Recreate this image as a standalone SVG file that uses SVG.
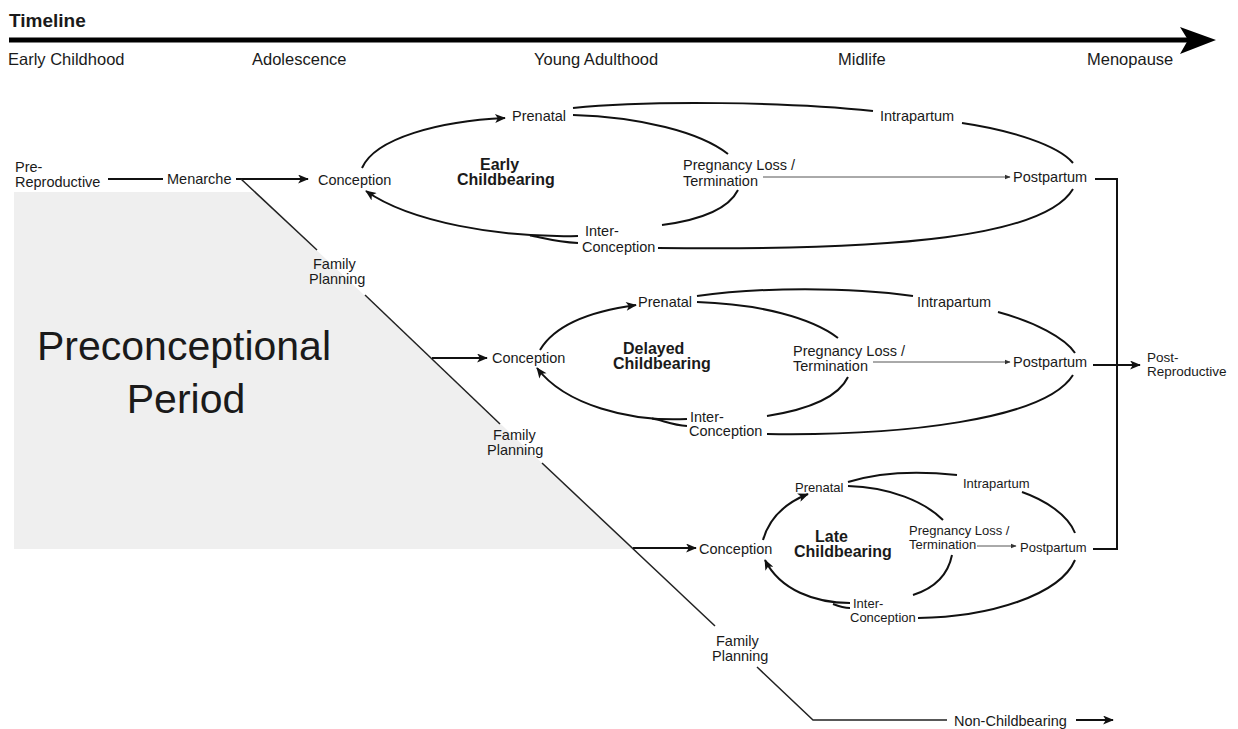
<svg xmlns="http://www.w3.org/2000/svg" width="1238" height="729" viewBox="0 0 1238 729">
<defs>
<style>
text{font-family:"Liberation Sans",Arial,sans-serif;fill:#1a1a1a}
.t16{font-size:16.5px}
.lb{font-size:14.5px}
.sm{font-size:13px}
.bd{font-size:16px;font-weight:bold}
.big{font-size:41px}
.c{fill:none;stroke:#111;stroke-width:2}
.d{fill:none;stroke:#222;stroke-width:1.5}
.th{fill:none;stroke:#555;stroke-width:1}
</style>
<marker id="ah" viewBox="0 0 12 10" refX="11" refY="5" markerWidth="12" markerHeight="9" markerUnits="userSpaceOnUse" orient="auto"><path d="M0,0 L12,5 L0,10 L3,5 z" fill="#111"/></marker>
<marker id="ahs" viewBox="0 0 10 10" refX="9" refY="5" markerWidth="6" markerHeight="6" markerUnits="userSpaceOnUse" orient="auto"><path d="M0,1 L10,5 L0,9 z" fill="#333"/></marker>
</defs>
<rect width="1238" height="729" fill="#fff"/>
<polygon id="preconceptional-area" points="14,192 255,192 633,549 14,549" fill="#efefef"/>

<g id="timeline">
<text x="9" y="27" style="font-size:19px;font-weight:bold">Timeline</text>
<line x1="9" y1="40" x2="1190" y2="40" stroke="#000" stroke-width="5"/>
<polygon points="1180,27 1216,40 1180,54 1188,40" fill="#000"/>
<text class="t16" x="8" y="65">Early Childhood</text>
<text class="t16" x="252" y="65">Adolescence</text>
<text class="t16" x="534" y="65">Young Adulthood</text>
<text class="t16" x="838" y="65">Midlife</text>
<text class="t16" x="1087" y="65">Menopause</text>
</g>

<g id="preconceptional-label">
<text class="big" x="184" y="360" text-anchor="middle">Preconceptional</text>
<text class="big" x="186" y="413" text-anchor="middle">Period</text>
</g>

<g id="connectors">
<line class="c" x1="108" y1="179" x2="163" y2="179"/>
<line class="c" x1="236" y1="179" x2="308" y2="179" marker-end="url(#ah)"/>
<line class="d" x1="241" y1="179" x2="317" y2="250"/>
<line class="d" x1="365" y1="295" x2="500" y2="424"/>
<line class="d" x1="542" y1="463" x2="715" y2="626"/>
<polyline class="d" points="757,667 813,720 947,720"/>
<line class="c" x1="432" y1="358" x2="487" y2="358" marker-end="url(#ah)"/>
<line class="c" x1="633" y1="548" x2="696" y2="548" marker-end="url(#ah)"/>
<line class="c" x1="1076" y1="720" x2="1113" y2="720" marker-end="url(#ah)"/>
<path class="c" d="M362,168 C375,138 440,121 505,118" marker-end="url(#ah)"/>
<path class="c" d="M573,115 C640,117 700,132 728,154"/>
<path class="c" d="M738,190 C728,210 700,220 662,225"/>
<path class="c" d="M578,236 C500,238 410,222 366,191" marker-end="url(#ah)"/>
<path class="c" d="M578,243 C555,242 540,237 530,235.5"/>
<path class="c" d="M573,108 C650,100 790,102 873,111"/>
<path class="c" d="M962,123 C1010,130 1058,145 1073,163"/>
<path class="c" d="M658,248 C900,251 1045,236 1073,189"/>
<line class="th" x1="763" y1="177" x2="1010" y2="177" marker-end="url(#ahs)"/>
<path class="c" d="M540,350 C553,328 585,312 636,305" marker-end="url(#ah)"/>
<path class="c" d="M697,296 C760,287 850,287 913,296"/>
<path class="c" d="M697,302 C760,304 812,318 838,338"/>
<path class="c" d="M998,312 C1035,322 1065,338 1075,353"/>
<path class="c" d="M848,377 C838,398 805,410 767,416"/>
<path class="c" d="M767,434 C900,436 1045,420 1073,375"/>
<path class="c" d="M687,419 C630,422 565,405 537,368" marker-end="url(#ah)"/>
<path class="c" d="M687,426 C672,425 662,420 652,418.5"/>
<line class="th" x1="873" y1="362" x2="1010" y2="362" marker-end="url(#ahs)"/>
<path class="c" d="M763,540 C770,515 788,502 808,494" marker-end="url(#ah)"/>
<path class="c" d="M848,482 C880,472 920,471 957,475"/>
<path class="c" d="M848,486 C890,487 925,502 943,520"/>
<path class="c" d="M1022,492 C1045,500 1068,515 1075,533"/>
<path class="c" d="M952,555 C948,575 935,588 913,595"/>
<path class="c" d="M918,618 C990,617 1060,595 1075,560"/>
<path class="c" d="M850,603 C815,603 780,590 765,560" marker-end="url(#ah)"/>
<path class="c" d="M850,608 C843,608 838,606 833,604"/>
<line class="th" x1="977" y1="546" x2="1016" y2="546" marker-end="url(#ahs)"/>
<polyline class="c" points="1095,179 1117,179 1117,549 1093,549"/>
<line class="c" x1="1093" y1="365" x2="1140" y2="365" marker-end="url(#ah)"/>
</g>

<g id="pre-reproductive"><text class="lb" x="15" y="172">Pre-<tspan x="15" y="187">Reproductive</tspan></text></g>
<g id="menarche"><text class="lb" x="167" y="184">Menarche</text></g>
<g id="family-planning-1"><text class="lb" x="313" y="269">Family</text><text class="lb" x="309" y="284">Planning</text></g>
<g id="family-planning-2"><text class="lb" x="493" y="440">Family</text><text class="lb" x="487" y="455">Planning</text></g>
<g id="family-planning-3"><text class="lb" x="716" y="646">Family</text><text class="lb" x="712" y="661">Planning</text></g>
<g id="non-childbearing"><text class="lb" x="954" y="726">Non-Childbearing</text></g>

<g id="early-childbearing">
<text class="lb" x="318" y="185">Conception</text>
<text class="lb" x="512" y="121">Prenatal</text>
<text class="bd" x="480" y="170">Early</text>
<text class="bd" x="457" y="185">Childbearing</text>
<text class="lb" x="880" y="121">Intrapartum</text>
<text class="lb" x="683" y="170">Pregnancy Loss /</text>
<text class="lb" x="683" y="186">Termination</text>
<text class="lb" x="1013" y="182">Postpartum</text>
<text class="lb" x="585" y="236">Inter-</text>
<text class="lb" x="582" y="252">Conception</text>
</g>

<g id="delayed-childbearing">
<text class="lb" x="492" y="363">Conception</text>
<text class="lb" x="638" y="307">Prenatal</text>
<text class="bd" x="623" y="354">Delayed</text>
<text class="bd" x="613" y="369">Childbearing</text>
<text class="lb" x="917" y="307">Intrapartum</text>
<text class="lb" x="793" y="356">Pregnancy Loss /</text>
<text class="lb" x="793" y="371">Termination</text>
<text class="lb" x="1013" y="367">Postpartum</text>
<text class="lb" x="690" y="422">Inter-</text>
<text class="lb" x="689" y="436">Conception</text>
</g>

<g id="late-childbearing">
<text class="lb" x="699" y="554">Conception</text>
<text class="sm" x="795" y="492">Prenatal</text>
<text class="bd" x="815" y="542">Late</text>
<text class="bd" x="794" y="557">Childbearing</text>
<text class="sm" x="963" y="488">Intrapartum</text>
<text class="sm" x="909" y="535">Pregnancy Loss /</text>
<text class="sm" x="909" y="549">Termination</text>
<text class="sm" x="1020" y="552">Postpartum</text>
<text class="sm" x="853" y="608">Inter-</text>
<text class="sm" x="850" y="622">Conception</text>
</g>

<g id="post-reproductive"><text x="1147" y="362" style="font-size:13.5px">Post-</text><text x="1147" y="376" style="font-size:13.5px">Reproductive</text></g>
</svg>
